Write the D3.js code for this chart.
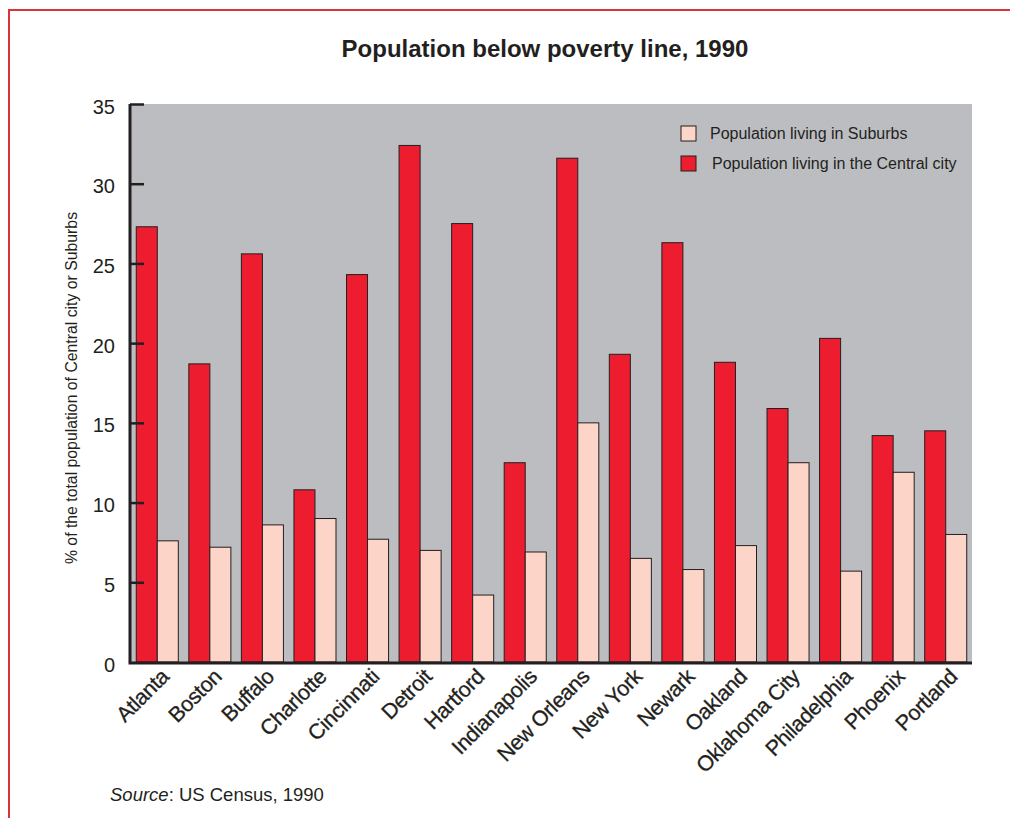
<!DOCTYPE html>
<html><head><meta charset="utf-8">
<script src="https://cdn.jsdelivr.net/npm/d3@7"></script>
<style>body{margin:0;background:#fff}svg{display:block;font-family:"Liberation Sans",Arial,sans-serif}</style>
</head><body><svg id="c" width="1010" height="818"></svg>
<script>
const cities = ["Atlanta","Boston","Buffalo","Charlotte","Cincinnati","Detroit","Hartford","Indianapolis","New Orleans","New York","Newark","Oakland","Oklahoma City","Philadelphia","Phoenix","Portland"];
const centralCity = [27.3,18.7,25.6,10.8,24.3,32.4,27.5,12.5,31.6,19.3,26.3,18.8,15.9,20.3,14.2,14.5];
const suburbs = [7.6,7.2,8.6,9.0,7.7,7.0,4.2,6.9,15.0,6.5,5.8,7.3,12.5,5.7,11.9,8.0];
const yTicks = [0,5,10,15,20,25,30,35];
const seriesNames = ["Population living in Suburbs","Population living in the Central city"];

(function(){
const svg = d3.select("#c");
const red = "#ed1c2e", pink = "#fdd5c8", gray = "#bcbdc1", ink = "#231f20";
const pL = 131, pR = 972, pT = 104, pB = 662;

svg.append("path").attr("d","M9,818 V10 H1010").attr("fill","none").attr("stroke","#d9343c").attr("stroke-width",2);

svg.append("text").attr("x",545).attr("y",57).attr("text-anchor","middle")
  .attr("font-size",24).attr("font-weight","bold").attr("fill",ink).text("Population below poverty line, 1990");

const x = d3.scaleBand().domain(cities).range([pL,pR]).paddingInner(0.2).paddingOuter(0.1);
const sub = d3.scaleBand().domain(["city","sub"]).range([0,x.bandwidth()]);
const y = d3.scaleLinear().domain([0,35]).range([pB,pT]);

svg.append("rect").attr("x",pL).attr("y",pT).attr("width",pR-pL).attr("height",pB-pT).attr("fill",gray);

const g = svg.append("g");
g.selectAll(".c").data(cities).join("rect")
  .attr("x",d=>x(d)+sub("city")).attr("y",(d,i)=>y(centralCity[i]))
  .attr("width",sub.bandwidth()).attr("height",(d,i)=>y(0)-y(centralCity[i]))
  .attr("fill",red).attr("stroke",ink).attr("stroke-width",1);
g.selectAll(".s").data(cities).join("rect")
  .attr("x",d=>x(d)+sub("sub")).attr("y",(d,i)=>y(suburbs[i]))
  .attr("width",sub.bandwidth()).attr("height",(d,i)=>y(0)-y(suburbs[i]))
  .attr("fill",pink).attr("stroke",ink).attr("stroke-width",1);

const ya = svg.append("g").attr("transform",`translate(${pL-1},0)`)
  .call(d3.axisLeft(y).tickValues(yTicks).tickSize(-14).tickPadding(28));
ya.select(".domain").attr("stroke",ink).attr("stroke-width",3).attr("d",`M0,${pB}V${pT}`);
ya.selectAll(".tick line").attr("stroke",ink).attr("stroke-width",2.5);
ya.selectAll(".tick text").attr("font-size",20).attr("fill",ink).attr("font-family","Liberation Sans, Arial, sans-serif").attr("x",-15).attr("dy","0.45em");
ya.selectAll(".tick").filter(d=>d===0).select("line").remove();

svg.append("line").attr("x1",pL-2.5).attr("x2",pR).attr("y1",pB+1).attr("y2",pB+1).attr("stroke",ink).attr("stroke-width",3);

svg.append("g").selectAll("text").data(cities).join("text")
  .attr("transform",d=>`translate(${x(d)+x.bandwidth()/2+13},${pB+16}) rotate(-45)`)
  .attr("text-anchor","end").attr("font-size",21.5).attr("letter-spacing",-0.4)
  .attr("fill",ink).attr("stroke",ink).attr("stroke-width",0.3).text(d=>d);

svg.append("text").attr("transform","translate(77,388) rotate(-90)").attr("text-anchor","middle")
  .attr("font-size",15.8).attr("fill",ink).text("% of the total population of Central city or Suburbs");

const lg = svg.append("g");
const legendColors = [pink, red];
seriesNames.forEach((n,i)=>{
  lg.append("rect").attr("x",681).attr("y",126+i*30).attr("width",15).attr("height",15).attr("fill",legendColors[i]).attr("stroke",ink).attr("stroke-width",1);
  lg.append("text").attr("x",710+i*2).attr("y",139+i*30).attr("font-size",16).attr("fill",ink).text(n);
});

const src = svg.append("text").attr("x",110).attr("y",801).attr("font-size",18.5).attr("fill",ink);
src.append("tspan").attr("font-style","italic").text("Source");
src.append("tspan").text(": US Census, 1990");
})();
</script></body></html>
